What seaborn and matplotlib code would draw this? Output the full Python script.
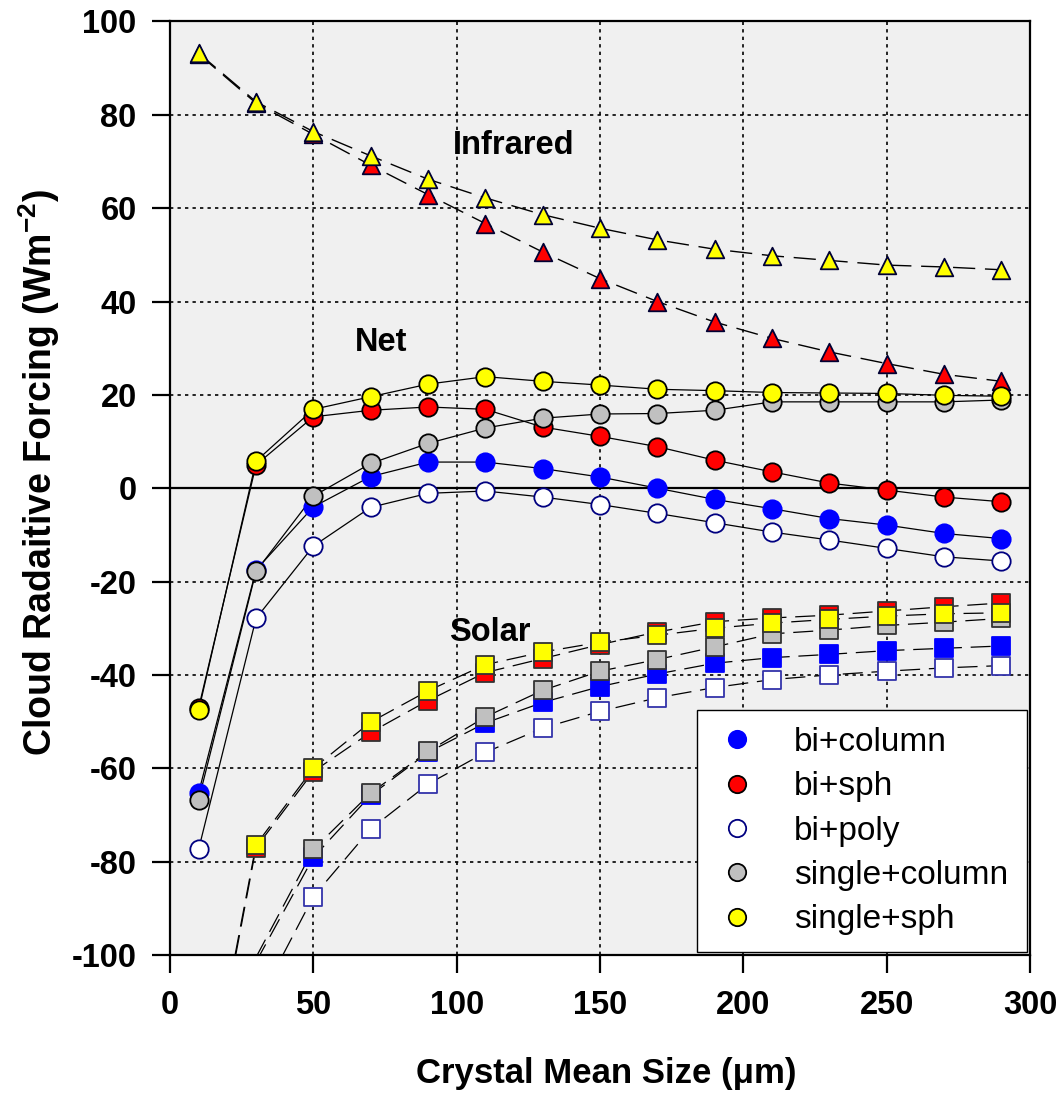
import numpy as np
import pandas as pd
import matplotlib
matplotlib.use("Agg")
import matplotlib.pyplot as plt
import seaborn as sns
from matplotlib.lines import Line2D

# ---------------- data ----------------
sizes = [10, 30, 50, 70, 90, 110, 130, 150, 170, 190, 210, 230, 250, 270, 290]

series_names = ["bi+column", "bi+sph", "bi+poly", "single+column", "single+sph"]

# Infrared (triangles)
ir_bi_sph = [93.0, 82.5, 75.8, 69.2, 62.9, 56.7, 50.6, 44.9, 40.0, 35.6, 32.1, 29.2, 26.7, 24.4, 22.9]
ir_single_sph = [93.2, 82.8, 76.4, 71.2, 66.2, 62.2, 58.6, 55.7, 53.2, 51.2, 49.8, 48.8, 47.8, 47.4, 46.8]

# Net (circles)
net_bi_column = [-65.2, -17.5, -4.0, 2.5, 5.6, 5.6, 4.2, 2.4, 0.0, -2.4, -4.4, -6.5, -7.9, -9.7, -10.8]
net_bi_sph = [-47.0, 5.0, 15.3, 16.7, 17.4, 16.9, 13.1, 11.1, 8.9, 6.0, 3.5, 1.1, -0.4, -1.9, -2.9]
net_bi_poly = [-77.3, -27.9, -12.4, -4.1, -1.1, -0.6, -1.9, -3.5, -5.4, -7.4, -9.4, -11.1, -12.9, -14.7, -15.6]
net_single_column = [-66.7, -17.8, -1.7, 5.3, 9.6, 12.9, 15.0, 15.9, 16.0, 16.7, 18.5, 18.5, 18.5, 18.5, 18.9]
net_single_sph = [-47.6, 5.8, 16.9, 19.6, 22.3, 23.9, 22.9, 22.1, 21.2, 20.9, 20.5, 20.4, 20.3, 19.9, 19.7]

# Solar (squares)
sol_bi_column = [np.nan, -101.5, -79.1, -65.8, -56.6, -50.3, -45.9, -42.5, -39.8, -37.5, -36.3, -35.6, -34.8, -34.3, -33.8]
sol_bi_sph = [-142.0, -77.0, -60.7, -52.3, -45.5, -39.5, -36.5, -33.5, -30.8, -28.6, -27.8, -27.2, -26.3, -25.4, -24.6]
sol_bi_poly = [np.nan, -111.0, -87.5, -73.0, -63.4, -56.6, -51.4, -47.8, -44.9, -42.7, -41.0, -40.0, -39.2, -38.5, -38.0]
sol_single_column = [np.nan, -100.5, -77.4, -65.3, -56.4, -49.0, -43.3, -39.2, -36.7, -34.0, -31.2, -30.4, -29.4, -28.7, -27.9]
sol_single_sph = [-141.0, -76.4, -60.0, -50.1, -43.4, -37.8, -35.1, -33.0, -31.5, -30.0, -28.9, -28.1, -27.4, -26.9, -26.7]

x_ticks = [0, 50, 100, 150, 200, 250, 300]
y_ticks = [-100, -80, -60, -40, -20, 0, 20, 40, 60, 80, 100]

# ---------------- style ----------------
face = {"bi+column": "#0000ff", "bi+sph": "#ff0000", "bi+poly": "#ffffff",
        "single+column": "#c0c0c0", "single+sph": "#ffff00"}
circ_edge = {"bi+column": "#0000ff", "bi+sph": "#000000", "bi+poly": "#000080",
             "single+column": "#000000", "single+sph": "#000000"}
sq_edge = {"bi+column": "#0000ff", "bi+sph": "#333333", "bi+poly": "#3333aa",
           "single+column": "#333333", "single+sph": "#333333"}
zo = {n: 3 + 0.1 * i for i, n in enumerate(series_names)}

sns.set_style("white")
plt.rcParams["font.family"] = ["Liberation Sans", "DejaVu Sans"]
plt.rcParams["axes.unicode_minus"] = False
plt.rcParams["text.color"] = "black"
plt.rcParams["axes.labelcolor"] = "black"
plt.rcParams["xtick.color"] = "black"
plt.rcParams["ytick.color"] = "black"
plt.rcParams["mathtext.fontset"] = "custom"
plt.rcParams["mathtext.rm"] = "Liberation Sans:bold"
plt.rcParams["mathtext.default"] = "rm"

fig = plt.figure(figsize=(10.64, 10.95), dpi=100)
ax = fig.add_axes([0.1598, 0.1279, 0.8083, 0.8525])
ax.set_facecolor("#f0f0f0")

dash = (0, (16, 7))

net = dict(zip(series_names, [net_bi_column, net_bi_sph, net_bi_poly, net_single_column, net_single_sph]))
sol = dict(zip(series_names, [sol_bi_column, sol_bi_sph, sol_bi_poly, sol_single_column, sol_single_sph]))
ir = {"bi+sph": ir_bi_sph, "single+sph": ir_single_sph}


def draw(vals, name, marker, lstyle, lw, edge, s):
    df = pd.DataFrame({"size": sizes, "value": vals}).dropna()
    sns.lineplot(data=df, x="size", y="value", ax=ax, color="black", linewidth=lw,
                 linestyle=lstyle, errorbar=None, zorder=2.5, sort=False)
    vis = df[df["value"] >= -100]
    sns.scatterplot(data=vis, x="size", y="value", ax=ax, marker=marker, s=s,
                    color=face[name], edgecolor=edge[name], linewidth=1.3,
                    zorder=zo[name], legend=False)


for n in series_names:
    draw(sol[n], n, "s", dash, 0.9, sq_edge, 150)
for n in ["bi+sph", "single+sph"]:
    draw(ir[n], n, "^", dash, 1.0, {"bi+sph": "#000033", "single+sph": "#000033"}, 160)
for n in series_names:
    draw(net[n], n, "o", "-", 0.9, circ_edge, 175)

ax.axhline(0, color="black", linewidth=1.6, zorder=2)

ax.set_xlim(0, 300)
ax.set_ylim(-100, 100)
ax.set_xticks(x_ticks)
ax.set_yticks(y_ticks)
ax.set_axisbelow(True)
ax.grid(True, color="black", linestyle=(0, (2, 2.5)), linewidth=1.2)

for sp in ax.spines.values():
    sp.set_color("black")
    sp.set_linewidth(1.6)

ax.tick_params(axis="both", direction="out", length=13, width=1.6, colors="black",
               labelsize=23.5, bottom=True, left=True, top=False, right=False)
ax.tick_params(axis="x", pad=12)
ax.tick_params(axis="y", pad=11)
for lab in ax.get_xticklabels() + ax.get_yticklabels():
    lab.set_fontweight("bold")

ax.set_xlabel("Crystal Mean Size (μm)", fontsize=25, fontweight="bold")
ax.set_ylabel("Cloud Radaitive Forcing (Wm$^{-2}$)", fontsize=27, fontweight="bold")
ax.xaxis.set_label_coords(0.5076, -0.137)
ax.xaxis.label.set_va("baseline")
ax.yaxis.set_label_coords(-0.1523, 0.517)
ax.yaxis.label.set_va("center")

ax.text(120, 73.5, "Infrared", ha="center", va="center", fontsize=23.5, fontweight="bold")
ax.text(73.6, 31.3, "Net", ha="center", va="center", fontsize=23.5, fontweight="bold")
ax.text(111.6, -30.9, "Solar", ha="center", va="center", fontsize=23.5, fontweight="bold", zorder=5)

handles = [Line2D([], [], marker="o", linestyle="none", markersize=12.5,
                  markerfacecolor=face[n], markeredgecolor=circ_edge[n], markeredgewidth=1.3)
           for n in series_names]
leg = ax.legend(handles, series_names, loc="lower left",
                bbox_to_anchor=(0.6128, 0.0032, 0.3837, 0.258), mode="expand",
                borderaxespad=0, fontsize=24, frameon=True, fancybox=False,
                edgecolor="black", facecolor="white", framealpha=1,
                handlelength=1.4, handletextpad=1.0, borderpad=0.5, labelspacing=0.4)
leg.get_frame().set_linewidth(1.0)
leg.set_zorder(10)
for t in leg.get_texts():
    t.set_color("black")

fig.savefig("out.png", dpi=100)
